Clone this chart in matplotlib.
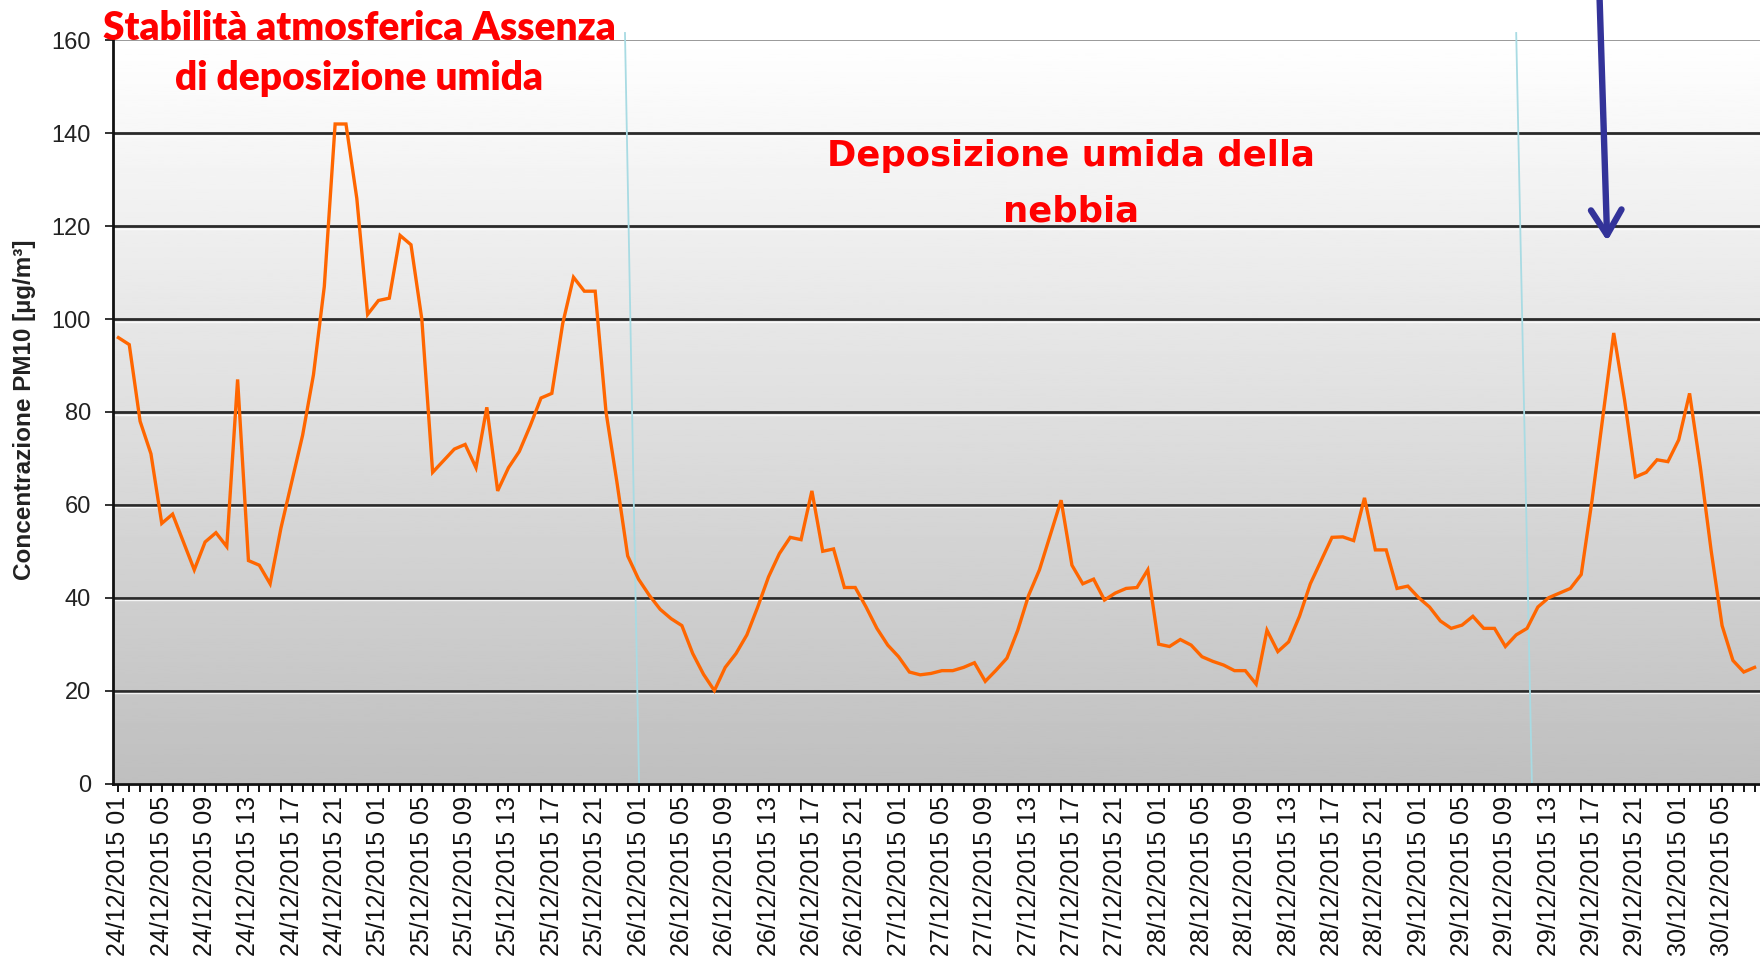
import numpy as np
import pandas as pd
import matplotlib
matplotlib.use("Agg")
import matplotlib.pyplot as plt
from matplotlib.patches import ArrowStyle

# ---- data: hourly PM10 [ug/m3], from 24/12/2015 01 onwards ----
pm10 = [96, 94.5, 78, 71, 56, 58, 52, 46, 52, 54, 51, 87, 48, 47, 43, 55, 65, 75, 88, 107,
        142, 142, 126, 101, 104, 104.5, 118, 116, 100, 67, 69.5, 72, 73, 68, 81, 63, 68, 71.5, 77, 83,
        84, 99, 109, 106, 106, 80, 65, 49, 44, 40.5, 37.5, 35.5, 34, 28, 23.5, 20, 25, 28, 32, 38,
        44.5, 49.5, 53, 52.5, 63, 50, 50.5, 42.2, 42.2, 38, 33.4, 29.8, 27.3, 24, 23.4, 23.7, 24.3, 24.3, 25, 26,
        22, 24.4, 27, 33, 40.5, 46, 53.5, 61, 47, 43, 44, 39.5, 41, 42, 42.2, 46, 30, 29.5, 31, 29.8,
        27.3, 26.3, 25.5, 24.3, 24.3, 21.4, 33, 28.4, 30.5, 36, 43, 48, 53, 53.1, 52.3, 61.5, 50.3, 50.3, 42, 42.5,
        40, 38, 35, 33.4, 34.1, 36, 33.4, 33.4, 29.5, 32, 33.4, 38, 40, 41, 42, 45, 61, 79, 97, 82.6,
        66, 67, 69.7, 69.3, 74, 84, 68, 50, 34, 26.5, 24, 25]
start = "2015-12-24 01:00"
label_step = 4                       # one date label every 4 hours
yticks = list(range(0, 161, 20))
# slanted separators between the phases (hour index at top / at bottom of the plot)
separators = [(46.75, 48.05), (129.0, 130.45)]
arrow_x = (136.7, 137.4)             # tail / tip, hour index
arrow_y = (168.7, 116.8)

txt_left = ["Stabilità atmosferica Assenza", "di deposizione umida"]
txt_mid = ["Deposizione umida della", "nebbia"]
ylabel = "Concentrazione PM10 [µg/m³]"

times = pd.date_range(start, periods=len(pm10), freq="h")
labels = [t.strftime("%d/%m/%Y %H") if i % label_step == 0 else "" for i, t in enumerate(times)]
x = np.arange(len(pm10))

W, H = 1760, 958
fig = plt.figure(figsize=(W / 100, H / 100), dpi=100)
L, R, T, B = 113, 1760, 40.4, 783.5
ax = fig.add_axes([L / W, 1 - B / H, (R - L) / W, (B - T) / H])
ax.set_xlim(-0.5, len(pm10) - 0.5); ax.set_ylim(0, 160)

# grey vertical gradient background
grad = np.linspace(191, 255, 256)[:, None]
ax.imshow(grad, extent=[-0.5, len(pm10) - 0.5, 0, 160], origin="lower", cmap="gray",
          vmin=0, vmax=255, aspect="auto", zorder=0)

for v in yticks[1:-1]:
    ax.axhline(v, color="#2a2a2a", lw=2.0, zorder=1)
    ax.axhline(v - 0.55, color="white", lw=1.0, alpha=0.8, zorder=1)
ax.axhline(160, color="#9a9a9a", lw=1.4, zorder=1)

ax.plot(x, pm10, color="#ff6600", lw=2.4, solid_joinstyle="miter", zorder=3)

for top, bot in separators:
    ax.plot([top, bot], [161.6, 0], color="#a8dbe3", lw=1.3, clip_on=False, zorder=2)

ax.annotate("", xy=(arrow_x[1], arrow_y[1]), xytext=(arrow_x[0], arrow_y[0]),
            arrowprops=dict(arrowstyle=ArrowStyle("->", head_length=0.36, head_width=0.22),
                            mutation_scale=50, lw=4.6, color="#333399", shrinkA=0, shrinkB=0,
                            joinstyle="round", capstyle="round"),
            annotation_clip=False, zorder=5)

for s in ("top", "right"):
    ax.spines[s].set_visible(False)
for s in ("left", "bottom"):
    ax.spines[s].set_color("#111111"); ax.spines[s].set_linewidth(2.0)

ax.set_yticks(yticks)
ax.set_yticklabels([str(v) for v in yticks], fontsize=17, color="#222222",
                   family=["Liberation Sans Narrow", "Liberation Sans"])
ax.tick_params(axis="y", length=6, width=1.3, pad=10, colors="#222222")
ax.set_xticks(x)
ax.set_xticklabels(labels, rotation=90, fontsize=18, family="Liberation Sans", color="#111111")
ax.tick_params(axis="x", length=6, width=1.3, pad=3)

fig.text(25 / W, 1 - 365 * 1.1224 / H, ylabel, rotation=90, ha="center", va="center",
         fontsize=17.5, fontweight="bold", family="Liberation Sans", color="#222222")

red = "#ff0000"
for s, yb in zip(txt_left, (40, 90)):
    fig.text(359 / W, 1 - yb / H, s, ha="center", va="baseline", color=red,
             fontsize=28, fontweight="heavy", family="Lato")
for s, yb in zip(txt_mid, (166, 222)):
    fig.text(1071 / W, 1 - yb / H, s, ha="center", va="baseline", color=red,
             fontsize=25.5, fontweight="bold", family="DejaVu Sans")

fig.savefig("out.png", dpi=100)
